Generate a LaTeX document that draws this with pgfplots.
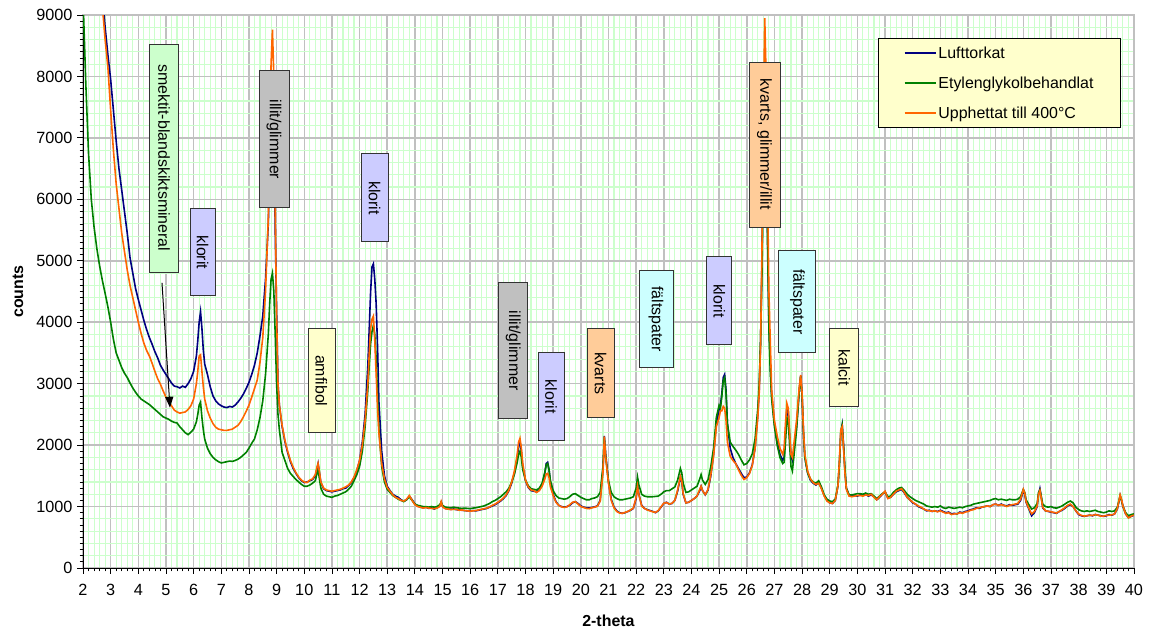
\documentclass[border=0pt]{standalone}
\usepackage{fontspec}
\setmainfont{Liberation Sans}
\usepackage{pgfplots}
\pgfplotsset{compat=1.18}
\usepackage{pgfplotstable}
\usetikzlibrary{arrows.meta}
\definecolor{cBlue}{HTML}{000080}
\definecolor{cGreen}{HTML}{008000}
\definecolor{cOrange}{HTML}{FF6600}
\definecolor{gridgray}{HTML}{C0C0C0}
\definecolor{gridgreen}{HTML}{CCFFCC}
\definecolor{fGreen}{HTML}{CCFFCC}
\definecolor{fLav}{HTML}{CCCCFF}
\definecolor{fGray}{HTML}{C0C0C0}
\definecolor{fYel}{HTML}{FFFFCC}
\definecolor{fPeach}{HTML}{FFCC99}
\definecolor{fCyan}{HTML}{CCFFFF}
\tikzset{ann/.style={draw=black!80, line width=0.8bp, rotate=-90, font=\fontsize{16}{19}\selectfont, inner sep=0pt, anchor=center}}

\pgfplotstableread{
x b g o
2.0 14500 9300 13500
2.1 13700 7900 12800
2.2 12900 6750 12000
2.3 12200 6000 11300
2.4 11500 5550 10600
2.5 10800 5200 10000
2.6 10100 4920 9600
2.7 9350 4680 9150
2.8 8800 4470 8600
2.9 8350 4250 8150
3.0 7950 4000 7450
3.1 7450 3720 6800
3.2 6950 3500 6250
3.3 6500 3380 5850
3.4 6150 3260 5450
3.5 5800 3170 5150
3.6 5450 3100 4850
3.7 5050 3010 4600
3.8 4800 2930 4400
3.9 4550 2860 4200
4.0 4370 2800 4000
4.1 4200 2750 3820
4.2 4030 2720 3660
4.3 3880 2690 3540
4.4 3750 2660 3450
4.5 3640 2620 3330
4.6 3520 2580 3200
4.7 3420 2540 3080
4.8 3300 2500 2990
4.9 3220 2460 2880
5.0 3150 2440 2780
5.1 3080 2420 2700
5.2 3010 2390 2640
5.3 2960 2370 2570
5.4 2950 2360 2540
5.5 2930 2300 2520
5.6 2960 2250 2530
5.7 2940 2200 2540
5.8 3000 2170 2580
5.9 3080 2210 2640
6.0 3200 2260 2750
6.1 3450 2380 3000
6.15 3700 2500 3200
6.2 4000 2650 3450
6.25 4170 2700 3470
6.3 3900 2450 3200
6.35 3550 2250 2950
6.4 3320 2100 2750
6.5 3150 1950 2560
6.6 2950 1860 2440
6.7 2800 1800 2350
6.8 2720 1760 2290
6.9 2670 1730 2260
7.0 2640 1710 2250
7.1 2620 1720 2240
7.2 2610 1730 2240
7.3 2630 1740 2250
7.4 2620 1735 2260
7.5 2650 1750 2290
7.6 2700 1770 2320
7.7 2760 1800 2380
7.8 2830 1840 2460
7.9 2920 1880 2550
8.0 3020 1950 2650
8.1 3150 2030 2780
8.2 3300 2100 2920
8.3 3500 2250 3060
8.4 3780 2450 3350
8.5 4100 2720 3750
8.6 4700 3150 4500
8.7 5600 3800 5700
8.75 6500 4300 6800
8.8 7600 4700 8200
8.85 8000 4800 8760
8.9 7300 4500 8000
8.95 5500 3800 5800
9.0 4200 3000 4100
9.05 3000 2500 3000
9.1 2650 2250 2650
9.2 2300 1880 2320
9.3 2060 1750 2080
9.4 1880 1620 1900
9.5 1730 1540 1750
9.6 1620 1490 1640
9.7 1540 1440 1550
9.8 1470 1400 1480
9.9 1420 1360 1430
10.0 1390 1330 1400
10.1 1400 1330 1390
10.2 1420 1350 1430
10.3 1440 1380 1450
10.4 1500 1420 1520
10.45 1600 1520 1620
10.5 1700 1600 1700
10.55 1550 1450 1560
10.6 1390 1300 1400
10.7 1290 1200 1300
10.8 1260 1170 1270
10.9 1250 1160 1260
11.0 1240 1150 1250
11.1 1250 1170 1260
11.2 1260 1180 1270
11.3 1270 1200 1280
11.4 1290 1220 1300
11.5 1300 1240 1320
11.6 1340 1280 1350
11.7 1390 1330 1400
11.8 1470 1420 1480
11.9 1580 1520 1600
12.0 1750 1650 1750
12.1 2050 1900 2000
12.2 2500 2300 2400
12.3 3300 2900 3000
12.35 3900 3300 3500
12.4 4500 3650 3900
12.45 4900 3850 4050
12.5 4950 3950 4100
12.55 4700 3800 3700
12.6 4300 3400 3150
12.65 3600 2800 2600
12.7 2700 2250 2200
12.8 1900 1650 1700
12.9 1500 1400 1450
13.0 1330 1280 1310
13.1 1260 1230 1250
13.2 1200 1180 1190
13.3 1170 1150 1150
13.4 1150 1120 1130
13.5 1110 1100 1100
13.6 1090 1080 1090
13.7 1110 1110 1120
13.8 1170 1160 1180
13.9 1110 1100 1100
14.0 1040 1040 1030
14.1 1010 1020 1000
14.2 990 1010 990
14.3 980 1000 975
14.4 990 1000 985
14.5 970 990 975
14.6 980 1000 970
14.7 960 990 965
14.8 980 1000 975
14.9 1010 1030 1000
14.95 1070 1070 1080
15.0 1000 1020 995
15.1 970 990 965
15.2 960 985 960
15.3 955 980 950
15.4 960 990 955
15.5 950 980 955
15.6 945 975 940
15.7 940 970 945
15.8 935 975 935
15.9 930 970 930
16.0 925 965 925
16.1 935 975 930
16.2 930 980 935
16.3 940 990 945
16.4 950 1000 955
16.5 960 1010 965
16.6 970 1030 975
16.7 990 1050 995
16.8 1010 1080 1020
16.9 1030 1100 1040
17.0 1060 1130 1070
17.1 1090 1160 1100
17.2 1130 1200 1140
17.3 1180 1240 1190
17.4 1260 1300 1270
17.5 1380 1400 1400
17.6 1550 1530 1580
17.7 1800 1720 1850
17.75 1980 1850 2050
17.8 2050 1900 2110
17.85 1900 1800 1950
17.9 1650 1600 1700
18.0 1420 1430 1430
18.1 1310 1340 1320
18.2 1260 1290 1270
18.3 1250 1280 1260
18.4 1240 1270 1230
18.5 1270 1300 1260
18.6 1350 1380 1330
18.7 1550 1560 1450
18.75 1700 1680 1530
18.8 1720 1700 1540
18.85 1600 1600 1470
18.9 1400 1420 1320
19.0 1200 1260 1180
19.1 1080 1180 1070
19.2 1020 1140 1020
19.3 1000 1130 995
19.4 990 1120 985
19.5 1000 1130 995
19.6 1020 1160 1030
19.7 1060 1200 1070
19.8 1080 1210 1080
19.9 1050 1180 1040
20.0 1010 1150 1000
20.1 990 1130 985
20.2 980 1110 970
20.3 975 1110 965
20.4 985 1130 980
20.5 995 1140 990
20.6 1010 1160 1005
20.7 1100 1230 1090
20.8 1600 1650 1550
20.85 2150 2100 2140
20.9 1850 1800 1800
21.0 1400 1420 1380
21.1 1120 1230 1100
21.2 990 1160 980
21.3 930 1130 920
21.4 900 1110 895
21.5 890 1110 890
21.6 900 1120 905
21.7 920 1130 920
21.8 940 1140 945
21.9 970 1160 975
22.0 1130 1300 1150
22.05 1350 1480 1330
22.1 1200 1350 1190
22.2 1020 1200 1010
22.3 970 1170 970
22.4 950 1160 945
22.5 935 1160 930
22.6 920 1160 915
22.7 900 1165 905
22.8 930 1170 935
22.9 990 1200 995
23.0 1050 1240 1055
23.1 1070 1260 1065
23.2 1040 1260 1040
23.3 1050 1290 1055
23.4 1100 1320 1100
23.5 1250 1430 1270
23.6 1480 1620 1490
23.65 1400 1550 1420
23.7 1200 1380 1210
23.8 1060 1230 1060
23.9 1070 1240 1070
24.0 1100 1270 1100
24.1 1130 1300 1130
24.2 1170 1330 1170
24.3 1260 1450 1280
24.35 1330 1520 1330
24.4 1260 1430 1260
24.5 1190 1360 1195
24.6 1270 1440 1280
24.7 1500 1650 1520
24.8 1850 1950 1820
24.9 2350 2450 2300
25.0 2580 2650 2450
25.05 2650 2600 2560
25.1 2850 2800 2560
25.15 3100 3050 2630
25.2 3150 3100 2600
25.25 2900 2850 2400
25.3 2350 2350 2050
25.4 1950 2050 1820
25.5 1800 1980 1750
25.6 1700 1920 1700
25.7 1620 1850 1600
25.8 1540 1760 1510
25.9 1470 1680 1440
26.0 1480 1700 1470
26.1 1550 1760 1540
26.2 1680 1860 1670
26.3 1950 2100 1950
26.4 2500 2600 2450
26.45 2900 3000 2850
26.5 3700 3700 3650
26.55 5000 4800 5200
26.6 6800 6500 7400
26.65 7900 7600 8950
26.7 7200 7000 8000
26.75 5500 5300 6200
26.8 4000 3900 4500
26.85 3300 3200 3700
26.9 2800 2750 2900
27.0 2350 2300 2400
27.1 2050 2000 2150
27.2 1850 1800 1950
27.3 1750 1700 1850
27.35 1800 1720 1950
27.4 2200 2050 2350
27.45 2600 2450 2680
27.5 2550 2380 2600
27.55 2150 2000 2200
27.6 1820 1650 1850
27.65 1750 1580 1800
27.7 1900 1800 2000
27.8 2300 2250 2400
27.9 2900 2900 2950
27.95 3130 3120 3140
28.0 2800 2800 2850
28.05 2200 2200 2250
28.1 1800 1800 1850
28.2 1550 1550 1580
28.3 1430 1450 1450
28.4 1380 1400 1390
28.5 1350 1380 1360
28.6 1390 1420 1380
28.7 1300 1320 1290
28.8 1180 1190 1170
28.9 1100 1120 1090
29.0 1060 1090 1060
29.1 1050 1080 1050
29.2 1100 1120 1100
29.3 1350 1350 1350
29.35 1700 1700 1750
29.4 2200 2200 2250
29.45 2330 2320 2300
29.5 2000 1980 1950
29.55 1600 1580 1550
29.6 1300 1300 1280
29.7 1180 1190 1170
29.8 1170 1190 1160
29.9 1180 1200 1170
30.0 1170 1210 1180
30.1 1190 1210 1180
30.2 1180 1200 1170
30.3 1200 1220 1190
30.4 1170 1200 1180
30.5 1190 1210 1200
30.6 1160 1170 1150
30.7 1110 1130 1110
30.8 1150 1170 1160
30.9 1200 1210 1200
31.0 1240 1240 1250
31.1 1140 1160 1130
31.2 1150 1170 1150
31.3 1200 1230 1200
31.4 1240 1270 1250
31.5 1260 1300 1270
31.6 1280 1310 1290
31.7 1220 1260 1230
31.8 1150 1200 1150
31.9 1110 1160 1110
32.0 1060 1130 1070
32.1 1040 1100 1040
32.2 1000 1080 1010
32.3 980 1060 990
32.4 960 1040 960
32.5 930 1010 940
32.6 940 1000 930
32.7 920 990 925
32.8 930 1000 930
32.9 920 990 915
33.0 940 1010 930
33.1 920 980 910
33.2 900 970 890
33.3 910 990 900
33.4 880 980 870
33.5 890 970 880
33.6 880 980 880
33.7 910 990 900
33.8 900 980 890
33.9 920 1000 910
34.0 930 1010 920
34.1 950 1020 940
34.2 960 1040 950
34.3 980 1050 970
34.4 970 1060 980
34.5 990 1070 990
34.6 1000 1080 1000
34.7 1010 1090 1010
34.8 1000 1100 1000
34.9 1030 1120 1030
35.0 1040 1130 1040
35.1 1020 1110 1020
35.2 1040 1120 1030
35.3 1020 1110 1020
35.4 1010 1100 1000
35.5 1030 1120 1020
35.6 1020 1110 1030
35.7 1030 1110 1040
35.8 1040 1120 1050
35.9 1100 1160 1120
36.0 1260 1280 1280
36.05 1200 1230 1220
36.1 1070 1110 1080
36.2 960 1030 970
36.3 850 960 880
36.4 900 980 920
36.5 1000 1050 1010
36.55 1200 1230 1200
36.6 1290 1270 1260
36.65 1150 1160 1130
36.7 980 1040 990
36.8 930 1000 930
36.9 920 990 925
37.0 910 1000 915
37.1 900 980 905
37.2 890 975 895
37.3 920 990 920
37.4 940 1010 950
37.5 970 1040 980
37.6 1010 1070 1020
37.7 1030 1090 1040
37.8 1000 1060 1000
37.9 930 990 930
38.0 870 950 880
38.1 850 930 855
38.2 840 920 845
38.3 850 930 850
38.4 860 920 860
38.5 850 930 855
38.6 870 940 870
38.7 860 920 860
38.8 850 910 845
38.9 840 900 845
39.0 850 910 855
39.1 870 930 860
39.2 860 920 865
39.3 880 930 880
39.4 960 990 970
39.5 1180 1170 1190
39.55 1100 1100 1120
39.6 1000 1010 1010
39.7 880 900 880
39.8 820 850 815
39.9 840 870 845
40.0 860 880 860
}\xrd

\begin{document}
\begin{tikzpicture}
\useasboundingbox (0,0) rectangle (1150bp,633bp);
\pgfplotsset{common/.style={at={(83bp,65bp)},anchor=south west,scale only axis,
  width=1051bp,height=553bp,xmin=2,xmax=40,ymin=0,ymax=9000,
  xtick={2,3,...,40},ytick={0,1000,...,9000}}}
% grid layer
\begin{axis}[common, minor x tick num=4, minor y tick num=4, grid=both,
  major grid style={draw=gridgray,line width=1.5bp},
  minor grid style={draw=gridgreen,line width=1.1bp},
  xticklabels={}, yticklabels={}, major tick length=0pt, minor tick length=0pt,
  axis line style={draw=gridgray,line width=1.5bp}]
\end{axis}
% data layer
\begin{axis}[common, axis lines*=left, axis line style={-,draw=black,line width=1bp},
  tick align=outside, minor x tick num=4, minor y tick num=9,
  major tick length=6bp, minor tick length=3.5bp,
  tick style={black,line width=0.8bp},
  /pgf/number format/assume math mode=true,
  /pgf/number format/1000 sep={},
  tick label style={font=\fontsize{16.3}{19}\selectfont},
  xticklabel style={yshift=-7bp},
  yticklabel style={xshift=-1bp},
  xlabel={\textbf{2-theta}}, ylabel={\textbf{counts}},
  every axis x label/.style={at={(rel axis cs:0.5,0)},yshift=-53bp,anchor=center,font=\fontsize{16}{19}\selectfont},
  every axis y label/.style={at={(rel axis cs:0,0.5)},xshift=-65bp,rotate=90,anchor=center,font=\fontsize{16}{19}\selectfont},
  legend style={at={(rel axis cs:0.9876,0.958)}, anchor=north east, draw=black,
    line width=0.8bp, fill=fYel, inner xsep=25bp, inner ysep=7bp, row sep=15bp,
    font=\fontsize{16}{19}\selectfont, cells={anchor=west},
    nodes={inner xsep=2bp, inner ysep=1bp}},
  legend image code/.code={\draw[#1,line width=1.6bp] (0bp,0bp) -- (31bp,0bp);}
]
\addplot[cBlue, line width=1.6bp] table[x=x,y=b] {\xrd};
\addlegendentry{Lufttorkat}
\addplot[cGreen, line width=1.6bp] table[x=x,y=g] {\xrd};
\addlegendentry{Etylenglykolbehandlat}
\addplot[cOrange, line width=1.6bp] table[x=x,y=o] {\xrd};
\addlegendentry{Upphettat till 400°C}

\node[ann,fill=fGreen,minimum width=228bp,minimum height=29bp] at (axis cs:4.93,6674) {smektit-blandskiktsmineral};
\node[ann,fill=fLav,minimum width=87bp,minimum height=25bp] at (axis cs:6.32,5137) {klorit};
\node[ann,fill=fGray,minimum width=137bp,minimum height=30bp] at (axis cs:8.905,6976) {illit/glimmer};
\node[ann,fill=fLav,minimum width=88bp,minimum height=27bp] at (axis cs:12.54,6024) {klorit};
\node[ann,fill=fYel,minimum width=104bp,minimum height=27bp] at (axis cs:10.62,3047) {amfibol};
\node[ann,fill=fGray,minimum width=136bp,minimum height=29bp] at (axis cs:17.56,3535) {illit/glimmer};
\node[ann,fill=fLav,minimum width=88bp,minimum height=26bp] at (axis cs:18.92,2787) {klorit};
\node[ann,fill=fPeach,minimum width=89bp,minimum height=27bp] at (axis cs:20.71,3169) {kvarts};
\node[ann,fill=fCyan,minimum width=97bp,minimum height=34bp] at (axis cs:22.72,4048) {fältspater};
\node[ann,fill=fLav,minimum width=88bp,minimum height=25bp] at (axis cs:25.01,4348) {klorit};
\node[ann,fill=fPeach,minimum width=165bp,minimum height=31bp] at (axis cs:26.64,6894) {kvarts, glimmer/illit};
\node[ann,fill=fCyan,minimum width=102bp,minimum height=37bp] at (axis cs:27.83,4332) {fältspater};
\node[ann,fill=fYel,minimum width=78bp,minimum height=29bp] at (axis cs:29.53,3259) {kalcit};
\draw[-{Triangle[length=11bp,width=8bp]}, line width=1bp, black] (axis cs:4.856,4641) -- (axis cs:5.145,2608);
\end{axis}
\end{tikzpicture}
\end{document}
